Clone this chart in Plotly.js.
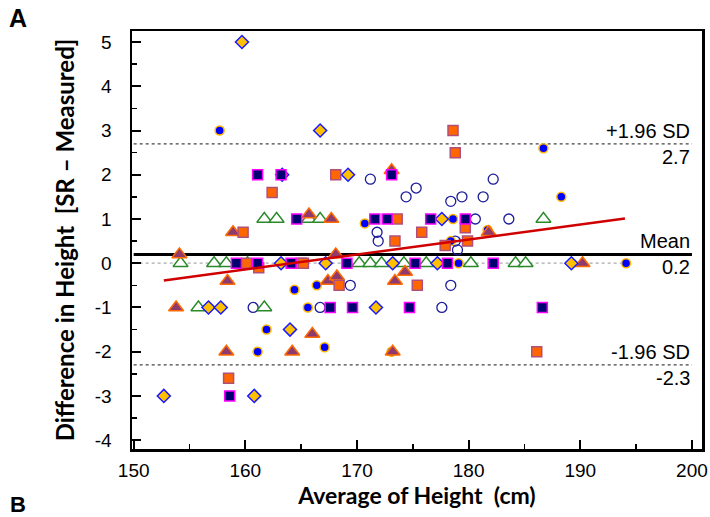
<!DOCTYPE html>
<html>
<head>
<meta charset="utf-8">
<script src="https://cdn.plot.ly/plotly-3.0.1.min.js"></script>
<style>html,body{margin:0;padding:0;background:#fff;}#chart{width:710px;height:517px;}</style>
</head>
<body>
<div id="chart"></div>
<script>
// ---- data (average height cm, difference SR - measured) ----
const blueCircleX = [157.7, 186.7, 164.4, 166.4, 165.6, 161.9, 167.1, 161.1, 170.7, 178.6, 178.4, 179.1, 188.3, 194.1, 173.1, 181.7];
const blueCircleY = [3.0, 2.6, -0.6, -0.5, -1.0, -1.5, -1.9, -2.0, 0.9, 1.0, 0.5, 0, 1.5, 0, -2.0, 0.75];

const openCircleX = [171.2, 182.2, 175.3, 174.4, 178.4, 179.4, 181.3, 180.6, 183.6, 171.8, 171.9, 178.8, 179.0, 169.4, 178.4, 160.7, 166.7, 177.6];
const openCircleY = [1.9, 1.9, 1.7, 1.5, 1.4, 1.5, 1.5, 1.0, 1.0, 0.7, 0.5, 0.5, 0.3, -0.5, -0.5, -1.0, -1.0, -1.0];

const greenTriX = [161.7, 162.8, 165.7, 166.7, 186.7, 154.2, 157.2, 158.3, 160.2, 170.2, 171.2, 172.2, 174.2, 176.2, 180.2, 184.2, 185.1, 155.8, 161.7];
const greenTriY = [1.0, 1.0, 1.0, 1.0, 1.0, 0, 0, 0, 0, 0, 0, 0, 0, 0, 0, 0, 0, -1.0, -1.0];

const purpleTriX = [173.1, 165.7, 167.7, 158.9, 181.8, 154.1, 168.1, 158.4, 167.4, 168.2, 173.4, 174.3, 190.2, 153.8, 166.0, 158.3, 164.2, 173.2];
const purpleTriY = [2.1, 1.1, 1.0, 0.7, 0.7, 0.2, 0.2, -0.4, -0.4, -0.3, -0.4, -0.2, 0, -1.0, -1.6, -2.0, -2.0, -2.0];

const goldDiamondX = [159.7, 166.7, 169.2, 163.3, 177.6, 163.2, 167.2, 173.2, 177.2, 189.2, 156.7, 157.8, 171.7, 164.0, 152.7, 160.8];
const goldDiamondY = [5.0, 3.0, 2.0, 2.0, 1.0, 0, 0, 0, 0, 0, -1.0, -1.0, -1.0, -1.5, -3.0, -3.0];

const orangeSquareX = [178.6, 178.8, 162.4, 168.1, 159.8, 173.6, 175.8, 173.4, 179.7, 179.9, 177.9, 160.1, 161.2, 165.0, 165.2, 168.4, 175.4, 158.5, 186.1];
const orangeSquareY = [3.0, 2.5, 1.6, 2.0, 0.7, 1.0, 0.7, 0.5, 0.8, 0.5, 0.4, 0, -0.1, 0, 0, -0.5, -0.5, -2.6, -2.0];

const navySquareX = [161.1, 163.2, 173.1, 164.6, 171.6, 172.7, 176.6, 179.7, 159.2, 161.1, 164.1, 169.1, 175.2, 178.1, 182.2, 167.6, 169.6, 174.7, 186.6, 158.6];
const navySquareY = [2.0, 2.0, 2.0, 1.0, 1.0, 1.0, 1.0, 1.0, 0, 0, 0, 0, 0, 0, 0, -1.0, -1.0, -1.0, -1.0, -3.0];

// reference lines
const meanDiff = 0.2;
const upperLoA = 2.7;
const lowerLoA = -2.3;
const limitX = [150, 200];
const zeroX = [150, 194.5];
const regX = [152.7, 194.0];
const regY = [-0.39, 1.01];

const xTicks = [150, 160, 170, 180, 190, 200];
const yTicks = [-4, -3, -2, -1, 0, 1, 2, 3, 4, 5];

const noHover = {hoverinfo: 'skip', showlegend: false};
const traces = [
  Object.assign({x: zeroX, y: [0, 0], mode: 'lines', line: {color: '#aaaaaa', width: 1.2, dash: 'dot'}}, noHover),
  Object.assign({x: limitX, y: [upperLoA, upperLoA], mode: 'lines', line: {color: '#444', width: 1.2, dash: 'dot'}}, noHover),
  Object.assign({x: limitX, y: [lowerLoA, lowerLoA], mode: 'lines', line: {color: '#444', width: 1.2, dash: 'dot'}}, noHover),
  Object.assign({x: limitX, y: [meanDiff, meanDiff], mode: 'lines', line: {color: '#000', width: 3}}, noHover),
  Object.assign({x: openCircleX, y: openCircleY, mode: 'markers', marker: {symbol: 'circle-open', size: 10, color: '#1c1c9a', line: {width: 1.3, color: '#1c1c9a'}}}, noHover),
  Object.assign({x: blueCircleX, y: blueCircleY, mode: 'markers', marker: {symbol: 'circle', size: 9, color: '#0000ff', line: {width: 1.5, color: '#ffb800'}}}, noHover),
  Object.assign({x: greenTriX, y: greenTriY, mode: 'markers', marker: {symbol: 'triangle-up', size: 13, color: '#ffffff', line: {width: 1.4, color: '#2a8a2a'}}}, noHover),
  Object.assign({x: purpleTriX, y: purpleTriY, mode: 'markers', marker: {symbol: 'triangle-up', size: 13, color: '#8e3a6e', line: {width: 1.5, color: '#ff6a00'}}}, noHover),
  Object.assign({x: goldDiamondX, y: goldDiamondY, mode: 'markers', marker: {symbol: 'diamond', size: 10, color: '#ffc000', line: {width: 1.5, color: '#1a1aff'}}}, noHover),
  Object.assign({x: orangeSquareX, y: orangeSquareY, mode: 'markers', marker: {symbol: 'square', size: 10, color: '#ff6600', line: {width: 1.5, color: '#b0507a'}}}, noHover),
  Object.assign({x: navySquareX, y: navySquareY, mode: 'markers', marker: {symbol: 'square', size: 10, color: '#000070', line: {width: 1.5, color: '#ff00ff'}}}, noHover),
  Object.assign({x: regX, y: regY, mode: 'lines', line: {color: '#d00000', width: 2.5}}, noHover)
];

const annFont = {family: 'Liberation Sans, Arial, sans-serif', size: 20, color: '#000'};
const annotations = [
  {x: 200, y: upperLoA, xref: 'x', yref: 'y', text: '+1.96 SD', xanchor: 'right', yanchor: 'bottom', yshift: 0, showarrow: false, font: annFont},
  {x: 200, y: upperLoA, xref: 'x', yref: 'y', text: String(upperLoA), xanchor: 'right', yanchor: 'top', yshift: 0, showarrow: false, font: annFont},
  {x: 200, y: meanDiff, xref: 'x', yref: 'y', text: 'Mean', xanchor: 'right', yanchor: 'bottom', yshift: 0, showarrow: false, font: annFont},
  {x: 200, y: meanDiff, xref: 'x', yref: 'y', text: String(meanDiff), xanchor: 'right', yanchor: 'top', yshift: 0, showarrow: false, font: annFont},
  {x: 200, y: lowerLoA, xref: 'x', yref: 'y', text: '-1.96 SD', xanchor: 'right', yanchor: 'bottom', yshift: 0, showarrow: false, font: annFont},
  {x: 200, y: lowerLoA, xref: 'x', yref: 'y', text: String(lowerLoA), xanchor: 'right', yanchor: 'top', yshift: 0, showarrow: false, font: annFont},
  {x: -0.200, y: 1.031, xref: 'paper', yref: 'paper', text: '<b>A</b>', showarrow: false, xanchor: 'center', yanchor: 'middle', font: {family: 'Liberation Sans, Arial, sans-serif', size: 25, color: '#000'}},
  {x: -0.200, y: -0.132, xref: 'paper', yref: 'paper', text: '<b>B</b>', showarrow: false, xanchor: 'center', yanchor: 'middle', font: {family: 'Liberation Sans, Arial, sans-serif', size: 22, color: '#000'}}
];

const tickFont = {family: 'Liberation Sans, Arial, sans-serif', size: 19, color: '#000'};
const titleFont = {family: 'Lato, sans-serif', size: 23, color: '#000', weight: 'bold'};

const layout = {
  width: 710, height: 517,
  margin: {l: 132, r: 8, t: 31, b: 68},
  paper_bgcolor: '#fff', plot_bgcolor: '#fff',
  showlegend: false,
  xaxis: {
    range: [149.85, 200.9], tickvals: xTicks, ticktext: xTicks.map(String),
    ticks: 'inside', ticklen: 9, tickwidth: 2, tickcolor: '#000',
    minor: {dtick: 5, tick0: 150, ticks: 'inside', ticklen: 5, tickwidth: 1.5, tickcolor: '#000', showgrid: false},
    showline: true, linecolor: '#000', linewidth: 2.5, mirror: true,
    showgrid: false, zeroline: false, tickfont: tickFont, ticklabelstandoff: 3,
    title: {text: '<b>Average of Height  (cm)</b>', font: titleFont, standoff: 8}
  },
  yaxis: {
    range: [-4.2, 5.25], tickvals: yTicks, ticktext: yTicks.map(String),
    ticks: 'inside', ticklen: 9, tickwidth: 2, tickcolor: '#000',
    minor: {dtick: 0.5, tick0: 0, ticks: 'inside', ticklen: 5, tickwidth: 1.5, tickcolor: '#000', showgrid: false},
    showline: true, linecolor: '#000', linewidth: 2.5, mirror: true,
    showgrid: false, zeroline: false, tickfont: tickFont, ticklabelstandoff: 14,
    title: {text: '<b>Difference in Height  [SR – Measured]</b>', font: Object.assign({}, titleFont, {size: 24}), standoff: 14}
  },
  annotations: annotations
};

Plotly.newPlot('chart', traces, layout, {staticPlot: true, displayModeBar: false});
</script>
</body>
</html>
